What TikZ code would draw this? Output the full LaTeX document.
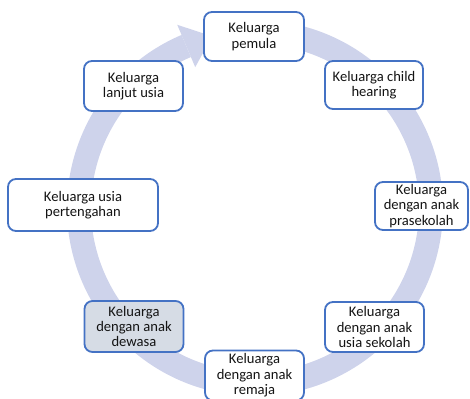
\documentclass[tikz,border=0pt]{standalone}
\usepackage{fontspec}
\setmainfont{Carlito}
\definecolor{ringc}{RGB}{206,211,235}
\definecolor{boxline}{RGB}{68,114,196}
\definecolor{boxfillb}{RGB}{214,220,229}
\definecolor{txt}{RGB}{20,20,20}
\begin{document}
\begin{tikzpicture}[x=1pt,y=1pt,
  stage/.style={draw=boxline, line width=1.8pt, rounded corners=8pt, fill=white,
    minimum width=99pt, minimum height=50pt, align=center, inner sep=2pt,
    text=txt, font=\fontsize{14.6}{15.4}\selectfont}]
\useasboundingbox (0,0) rectangle (470,398);
% circular arrow
\begin{scope}[shift={(255,190)}]
  \fill[ringc] (85:188) arc[start angle=85, end angle=-247, radius=188]
     -- (-247:164) arc[start angle=-247, end angle=85, radius=164] -- cycle;
  \fill[ringc] (113:153) -- (113:199) -- (104:177) -- cycle;
\end{scope}
% stages
\node[stage, minimum width=100pt, minimum height=49pt] (pemula) at (254,361.5) {Keluarga\\pemula};
\node[stage, minimum width=98pt, minimum height=48pt] (child) at (374,313) {Keluarga child\\hearing};
\node[stage, minimum width=93pt, minimum height=48pt] (pra) at (421.5,192) {Keluarga\\dengan anak\\prasekolah};
\node[stage] (sekolah) at (374.5,71) {Keluarga\\dengan anak\\usia sekolah};
\node[stage] (remaja) at (254.5,22.5) {Keluarga\\dengan anak\\remaja};
\node[stage, fill=boxfillb, minimum height=51pt] (dewasa) at (134,71.5) {Keluarga\\dengan anak\\dewasa};
\node[stage, minimum width=150pt, minimum height=52pt] (tengah) at (83,193) {Keluarga usia\\pertengahan};
\node[stage] (lanjut) at (133.5,312) {Keluarga\\lanjut usia};
\end{tikzpicture}
\end{document}
